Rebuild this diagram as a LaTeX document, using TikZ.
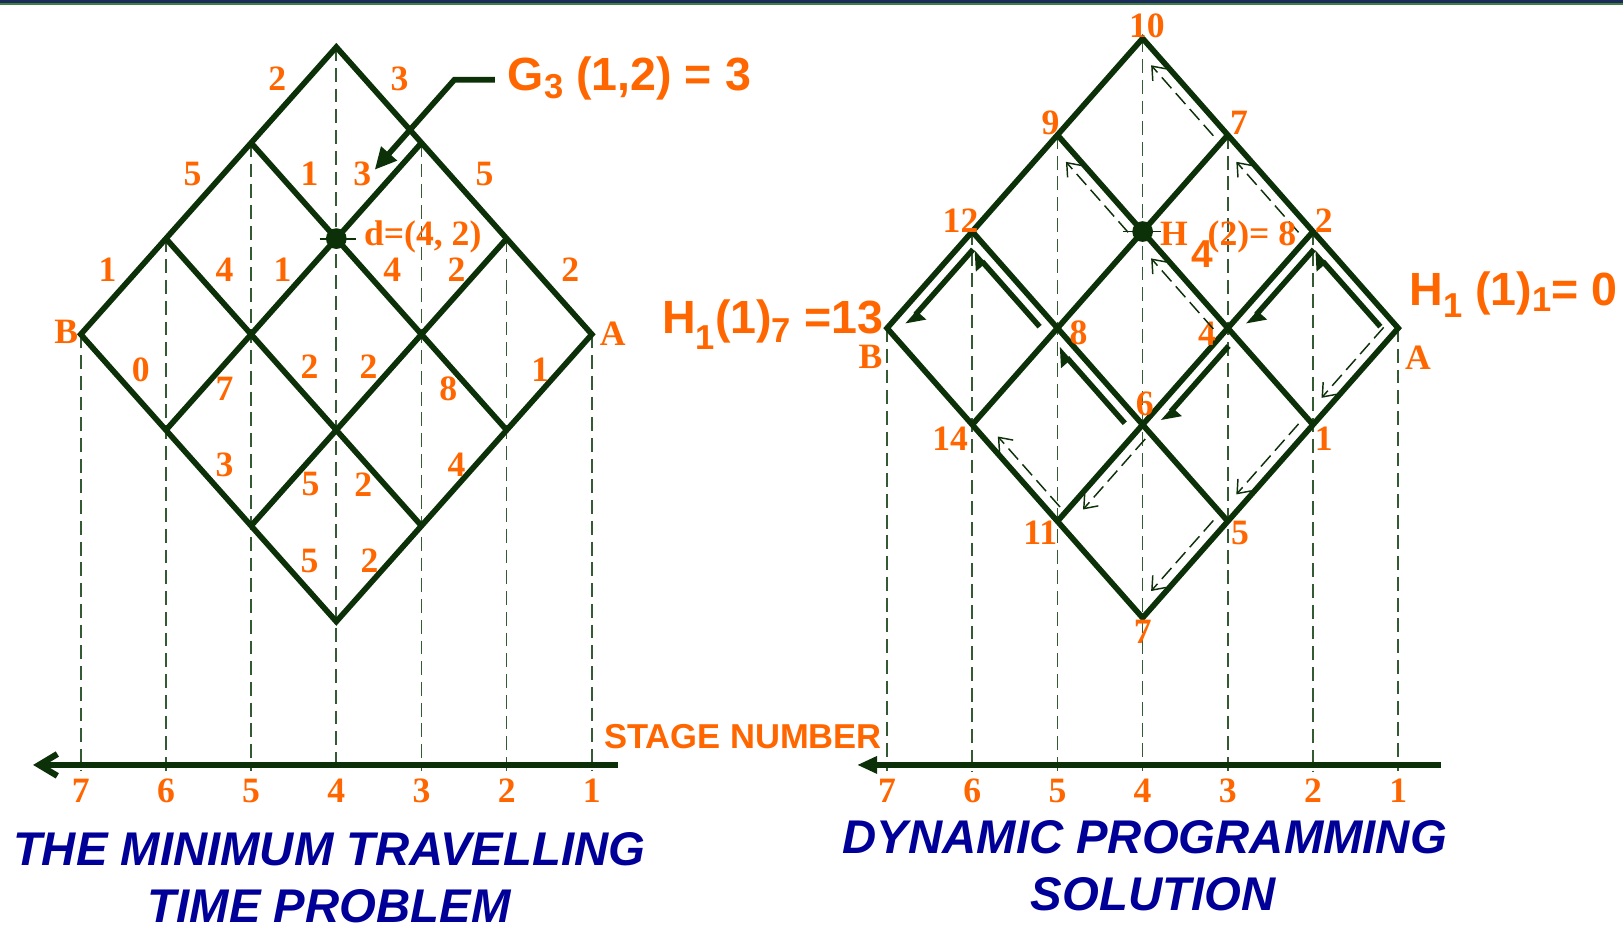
\documentclass[tikz,border=0pt]{standalone}
\usepackage{fontspec}
\setmainfont{Liberation Serif}
\setsansfont{Liberation Sans}
\usetikzlibrary{arrows.meta,calc,positioning}
\definecolor{gridgreen}{HTML}{0C3008}
\definecolor{stagegreen}{HTML}{345A34}
\definecolor{costorange}{HTML}{FF6600}
\definecolor{titleblue}{HTML}{000099}
\definecolor{barnavy}{HTML}{1C2A5C}
\definecolor{barlight}{HTML}{3F8040}
\newcommand{\lowsub}[2]{\raisebox{-#1}{\fontsize{9.5}{10}\selectfont #2}}

\begin{document}
\begin{tikzpicture}[
  latline/.style={draw=gridgreen, line width=1.55pt},
  stageline/.style={draw=stagegreen, line width=0.45pt, dash pattern=on 3.8pt off 1.9pt},
  cost/.style={font=\fontsize{9.8}{10}\selectfont\bfseries, text=costorange, inner sep=0pt},
  bigcost/.style={font=\fontsize{12.8}{13}\selectfont\sffamily\bfseries, text=costorange, inner sep=0pt},
  heading/.style={font=\fontsize{13}{14}\selectfont\sffamily\bfseries\itshape, text=titleblue, inner sep=0pt, anchor=base},
  stageaxis/.style={draw=gridgreen, line width=1.7pt},
  optarrow/.style={draw=gridgreen, line width=1.5pt, -{Triangle[harpoon, length=4pt, width=6pt]}},
  trialarrow/.style={draw=gridgreen, line width=0.4pt, dash pattern=on 4pt off 1.8pt, -{Straight Barb[length=3.2pt, width=5pt]}},
  vertexdot/.style={circle, fill=gridgreen, inner sep=0pt, minimum size=0.2cm},
  dottick/.style={draw=gridgreen, line width=0.5pt}
]
  % page band
  \useasboundingbox (0,0) rectangle (15.68,-8.97);
  \fill[barnavy] (0,0) rectangle (15.68,-0.026);
  \fill[barlight] (0,-0.026) rectangle (15.68,-0.045);

  % lattice points (i up to the right, j down to the right)
  \foreach \i in {0,...,3}
    \foreach \j in {0,...,3} {
      \coordinate (L-\i-\j) at ({0.78+0.823*(\i+\j)},{-3.23+0.925*(\i-\j)});
      \coordinate (R-\i-\j) at ({8.57+0.823*(\i+\j)},{-3.17+0.933*(\i-\j)});
    }
  \coordinate (axL-start) at (5.97,-7.39);
  \coordinate (axL-end)   at (0.32,-7.39);
  \coordinate (axR-start) at (13.92,-7.39);
  \coordinate (axR-end)   at (8.28,-7.39);
  \coordinate (axis-low)  at (0,-7.45);

  % stage lines and numbers
  \foreach \s in {0,...,6} {
    \pgfmathtruncatemacro\ti{min(\s,3)}
    \pgfmathtruncatemacro\tj{max(\s-3,0)}
    \pgfmathtruncatemacro\st{7-\s}
    \draw[stageline] (L-\ti-\tj) -- (L-\ti-\tj |- axis-low);
    \draw[stageline] (R-\ti-\tj) -- (R-\ti-\tj |- axis-low);
    \node[cost] (Lst\st) at ({0.78+0.823*\s},-7.64) {\st};
    \node[cost] (Rst\st) at ({8.57+0.823*\s},-7.64) {\st};
  }

  % lattices
  \foreach \g in {L,R} {
    \draw[latline] (\g-0-0) -- (\g-3-0) -- (\g-3-3) -- (\g-0-3) -- cycle;
    \foreach \k in {1,2} {
      \draw[latline] (\g-\k-0) -- (\g-\k-3);
      \draw[latline] (\g-0-\k) -- (\g-3-\k);
    }
  }

  % stage axes
  \draw[stageaxis, -{Straight Barb[length=5pt, width=6pt]}] (axL-start) -- (axL-end);
  \draw[stageaxis, -{Triangle[length=5.5pt, width=4.5pt]}] (axR-start) -- (axR-end);
  \node[bigcost, font=\fontsize{9.5}{10}\selectfont\sffamily\bfseries, anchor=base west]
    (stagelbl) at (5.83,-7.23) {STAGE NUMBER};

  % travel times on the left lattice
  \foreach \x/\y/\c [count=\n] in {2.68/0.76/2, 3.86/0.76/3,
      1.86/1.68/5, 2.99/1.68/1, 3.50/1.68/3, 4.68/1.68/5,
      1.04/2.61/1, 2.17/2.61/4, 2.73/2.61/1, 3.79/2.61/4, 4.41/2.61/2, 5.51/2.61/2,
      1.36/3.57/0, 2.17/3.76/7, 2.99/3.54/2, 3.56/3.54/2, 4.33/3.76/8, 5.22/3.57/1,
      2.17/4.49/3, 3.00/4.68/5, 3.51/4.68/2, 4.41/4.49/4,
      2.99/5.42/5, 3.57/5.42/2}
    \node[cost] (w\n) at (\x,-\y) {\c};
  \node[cost] (Lb) at (0.64,-3.21) {B};
  \node[cost] (La) at (5.92,-3.22) {A};

  % minimum times on the right lattice
  \foreach \x/\y/\c [count=\n] in {11.08/0.25/10, 10.15/1.19/9, 11.97/1.19/7,
      9.28/2.13/12, 12.79/2.13/2, 10.42/3.22/8, 11.66/3.22/4,
      8.41/3.45/B, 13.70/3.46/A, 11.06/3.90/6, 9.18/4.24/14, 12.79/4.24/1,
      10.05/5.15/11, 11.98/5.15/5, 11.04/6.10/7}
    \node[cost] (v\n) at (\x,-\y) {\c};

  % decisions tried
  \foreach \p/\q/\a in {R-3-1/R-3-0/90, R-3-2/R-3-1/90, R-2-1/R-2-0/90, R-2-2/R-2-1/90,
      R-3-3/R-2-3/-90, R-2-3/R-1-3/-90, R-1-3/R-0-3/-90, R-1-2/R-0-2/90, R-0-2/R-0-1/-90}
    \draw[trialarrow] ($(\p)!0.07!(\q)!0.11cm!\a:(\q)$) -- ($(\p)!0.8!(\q)!0.11cm!\a:(\q)$);

  % optimal path A to B
  \foreach \p/\q in {R-3-3/R-3-2, R-3-2/R-2-2, R-2-2/R-1-2, R-1-2/R-1-1, R-1-1/R-1-0, R-1-0/R-0-0}
    \draw[optarrow] ($(\p)!0.1!(\q)!0.12cm!90:(\q)$) -- ($(\p)!0.88!(\q)!0.12cm!90:(\q)$);

  % marked states
  \node[vertexdot] (dL) at (L-2-1) {};
  \draw[dottick] ([xshift=-0.16cm]dL.center) -- ([xshift=0.19cm]dL.center);
  \node[vertexdot] (dR) at (R-2-1) {};
  \draw[dottick] ([xshift=-0.19cm]dR.center) -- ([xshift=0.18cm]dR.center);
  \node[cost, anchor=base west] (dlbl) at (3.51,-2.37) {d=(4, 2)};
  \node[cost, anchor=base west] (hH) at (11.20,-2.37) {H};
  \node[bigcost, font=\fontsize{10.7}{11}\selectfont\sffamily\bfseries, anchor=base west]
    (h4) at (11.50,-2.58) {4};
  \node[cost, anchor=base west] (h2) at (11.66,-2.37) {(2)= 8};

  % callout and totals
  \node[bigcost, anchor=base west] (g3) at (4.90,-0.87) {G\lowsub{2.3pt}{3} (1,2) = 3};
  \coordinate (gstart) at (4.78,-0.77);
  \coordinate (gbend) at (4.39,-0.77);
  \coordinate (gtip) at (3.62,-1.64);
  \draw[latline, -{Triangle[length=6pt, width=5.5pt]}] (gstart) -- (gbend) -- (gtip);
  \node[bigcost, anchor=base west] (h17) at (6.39,-3.22) {H\lowsub{4.5pt}{1}(1)\lowsub{2.5pt}{7} =13};
  \node[bigcost, anchor=base west] (h11) at (13.61,-2.95) {H\lowsub{3.4pt}{1} (1)\lowsub{1.7pt}{1}= 0};

  % titles
  \node[heading] (t1a) at (3.18,-8.36) {THE MINIMUM TRAVELLING};
  \node[heading] (t1b) at (3.18,-8.91) {TIME PROBLEM};
  \node[heading] (t2a) at (11.06,-8.25) {DYNAMIC PROGRAMMING};
  \node[heading] (t2b) at (11.14,-8.80) {SOLUTION};
\end{tikzpicture}
\end{document}
